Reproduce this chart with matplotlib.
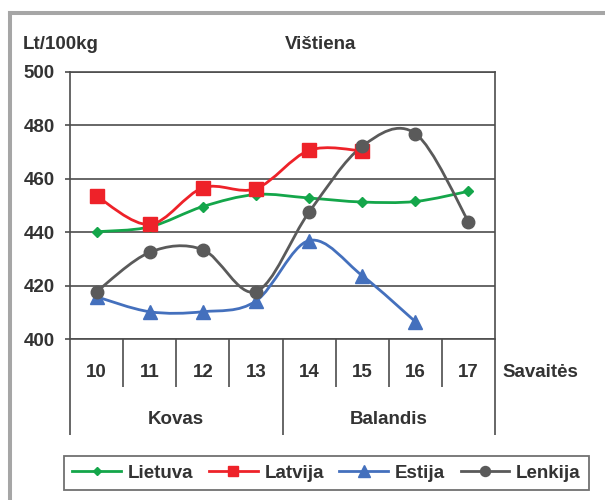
import matplotlib.pyplot as plt
import numpy as np
from matplotlib.path import Path
from matplotlib.patches import PathPatch
from matplotlib.lines import Line2D

plt.rcParams["font.family"] = ["Liberation Sans", "DejaVu Sans"]
plt.rcParams["font.weight"] = "bold"

TXT = "#333333"
FRAME = "#4d4d4d"
FS = 13.5

weeks = ["10", "11", "12", "13", "14", "15", "16", "17"]
months = ["Kovas", "Balandis"]
lietuva = [440.2, 442.0, 449.6, 454.1, 452.8, 451.3, 451.5, 455.3]
latvija = [453.5, 442.9, 456.6, 456.3, 470.6, 470.4]
estija = [415.9, 410.3, 410.3, 414.3, 436.9, 423.8, 406.6]
lenkija = [417.8, 432.5, 433.5, 417.8, 447.5, 472.1, 476.9, 444.0]

series = [
    ("Lietuva", lietuva, "#14a64a", "D", 5.6),
    ("Latvija", latvija, "#ee2229", "s", 9.5),
    ("Estija", estija, "#4470bd", "^", 10),
    ("Lenkija", lenkija, "#5a5a5a", "o", 9),
]


def smooth_path(xs, ys):
    # Excel-like smoothed line: cubic Bezier with Catmull-Rom tangents
    pts = np.column_stack([xs, ys]).astype(float)
    n = len(pts)
    verts = [pts[0]]
    codes = [Path.MOVETO]
    for i in range(n - 1):
        p0 = pts[max(i - 1, 0)]
        p1 = pts[i]
        p2 = pts[i + 1]
        p3 = pts[min(i + 2, n - 1)]
        c1 = p1 + (p2 - p0) / 6.0
        c2 = p2 - (p3 - p1) / 6.0
        verts += [c1, c2, p2]
        codes += [Path.CURVE4] * 3
    return Path(verts, codes)


fig = plt.figure(figsize=(6.05, 5.0), dpi=100, facecolor="white")
ax = fig.add_axes([70 / 605, 1 - 339.3 / 500, 425 / 605, 267.6 / 500])

for name, vals, col, mk, ms in series:
    x = np.arange(len(vals))
    ax.add_patch(PathPatch(smooth_path(x, vals), fill=False, edgecolor=col, linewidth=2.0, zorder=3))
    ax.plot(x, vals, linestyle="none", marker=mk, markersize=ms, color=col, zorder=4)

ax.set_xlim(-0.5, 7.5)
ax.set_ylim(400, 500)
ax.set_yticks(np.arange(400, 501, 20))
ax.set_xticks([])
ax.yaxis.grid(True, color=FRAME, linewidth=1.2)
ax.set_axisbelow(True)
for s in ax.spines.values():
    s.set_color(FRAME)
    s.set_linewidth(1.2)
ax.tick_params(axis="y", direction="out", length=3.6, width=1.2, color=FRAME,
               pad=7.5, labelsize=FS, labelcolor=TXT)

# category separators below the plot
tr = ax.get_xaxis_transform()
ax.vlines([0.5, 1.5, 2.5, 4.5, 5.5, 6.5], -0.177, 0, transform=tr, colors=FRAME, linewidth=1.2, clip_on=False)
ax.vlines([-0.5, 3.5, 7.5], -0.358, 0, transform=tr, colors=FRAME, linewidth=1.2, clip_on=False)

for i, w in enumerate(weeks):
    ax.text(i, -0.125, w, transform=tr, ha="center", va="center", fontsize=FS, color=TXT)
for i, m in enumerate(months):
    ax.text(1.5 + 4 * i, -0.30, m, transform=tr, ha="center", va="center", fontsize=FS, color=TXT)
ax.text(1.018, -0.125, "Savaitės", transform=ax.transAxes, ha="left", va="center", fontsize=FS, color=TXT)

fig.text(22.7 / 605, 1 - 44.5 / 500, "Lt/100kg", ha="left", va="center", fontsize=FS, color=TXT)
fig.text(321 / 605, 1 - 44.5 / 500, "Vištiena", ha="center", va="center", fontsize=FS, color=TXT)

handles = [Line2D([], [], color=c, marker=mk, markersize=ms * 0.8, linewidth=2.0)
           for _, _, c, mk, ms in series]
leg = fig.legend(handles, [s[0] for s in series], ncol=4, mode="expand",
                 loc="lower left", bbox_to_anchor=(64 / 605, 1 - 490 / 500, 525 / 605, 41 / 500),
                 borderaxespad=0, fancybox=False, frameon=True, fontsize=FS,
                 handlelength=2.6, handletextpad=0.35, columnspacing=0.8, borderpad=0.45)
leg.get_frame().set_edgecolor(FRAME)
leg.get_frame().set_linewidth(1.3)
for t in leg.get_texts():
    t.set_color(TXT)

# outer grey frame (left and top edges)
fig.add_artist(Line2D([10.3 / 605, 10.3 / 605], [0, 1 - 12.7 / 500], transform=fig.transFigure,
                      color="#a6a6a6", linewidth=2.9, solid_capstyle="projecting"))
fig.add_artist(Line2D([10.3 / 605, 1], [1 - 12.7 / 500, 1 - 12.7 / 500], transform=fig.transFigure,
                      color="#a6a6a6", linewidth=2.9, solid_capstyle="projecting"))

fig.savefig("out.png", dpi=100, facecolor="white")
